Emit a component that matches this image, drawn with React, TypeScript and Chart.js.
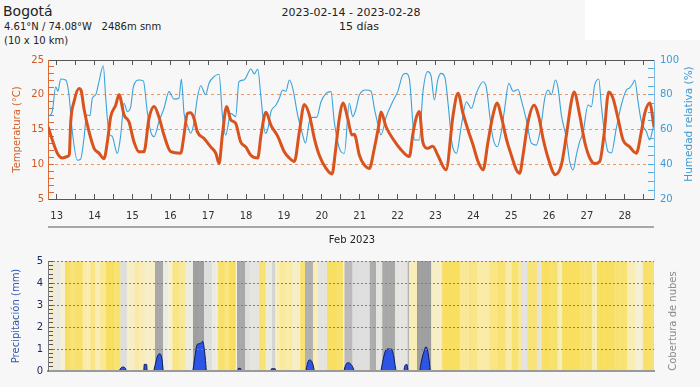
import React, { useEffect, useRef } from 'react';
import { Chart, registerables } from 'chart.js';

Chart.register(...registerables);

const FONT = 'DejaVu Sans';
const TOTAL_HOURS = 384;
const FIRST_MIDNIGHT = 5.5;

const dayLabels = ['13', '14', '15', '16', '17', '18', '19', '20', '21', '22', '23', '24', '25', '26', '27', '28'];

// [hour since chart start, °C]
const tempSeries: [number, number][] = [
  [0, 15.4], [3.8, 12.8], [5.9, 11.6], [9.1, 10.9], [12.2, 11.1], [13.5, 11.4], [14.4, 16.1], [16.5, 19.0],
  [19.6, 20.9], [21, 20.6], [22.8, 18.0], [26, 14.7], [29.2, 12.3], [32.3, 11.6], [35.5, 10.8], [37.6, 13.2],
  [39.7, 16.8], [42.9, 18.5], [45, 20.0], [48.2, 17.1], [51.3, 16.1], [54.5, 13.2], [57.7, 11.8], [60.8, 11.8],
  [64, 16.6], [67.2, 18.3], [70.3, 16.8], [73.5, 14.2], [77.8, 11.8], [84.1, 11.6], [86.2, 14.2], [88.3, 17.3],
  [90.3, 17.4], [92.5, 16.6], [94.6, 14.7], [98.9, 13.7], [103.1, 12.5], [106.3, 11.6], [108.4, 10.1], [110.5, 14.2],
  [113.2, 18.3], [115.8, 16.4], [118.9, 15.9], [122.1, 13.2], [125.3, 12.5], [128.5, 11.3], [132.9, 10.9], [135, 14.2],
  [138.1, 17.5], [141.3, 15.6], [145.6, 14.0], [149.7, 11.8], [152.9, 10.9], [156.1, 10.4], [159.3, 14.7], [162.4, 18.6],
  [165.6, 17.1], [168.8, 13.7], [171.9, 11.3], [176.2, 9.4], [180, 8.6], [182.1, 11.8], [184.6, 16.6], [187.1, 18.8],
  [189.9, 16.6], [192.6, 14.2], [194.1, 14.3], [197.3, 11.3], [200.4, 9.9], [203.6, 9.4], [206.8, 12.3], [209.6, 15.6],
  [211, 17.5], [214.2, 15.4], [218.4, 13.7], [223.7, 12.1], [229, 11.1], [231.1, 14.2], [233.2, 16.6], [235.3, 17.6],
  [237.5, 13.2], [240.6, 12.3], [243.8, 12.6], [247, 11.3], [252.2, 9.2], [256.7, 17.1], [259.8, 20.2], [263, 17.3],
  [266.2, 14.9], [269.3, 12.8], [272.5, 10.4], [275.7, 9.2], [278.8, 13.2], [282, 17.1], [284.7, 18.8], [287.3, 16.8],
  [290.4, 13.7], [293.6, 11.3], [296.8, 9.2], [298.9, 8.7], [301, 11.3], [304.2, 16.1], [308, 18.5], [311, 16.8],
  [313.7, 13.7], [316.9, 10.9], [321.5, 8.5], [325.3, 9.9], [328.5, 14.2], [331.6, 19.0], [333.3, 20.4], [336.9, 17.1],
  [340.1, 13.2], [343.3, 10.9], [346.4, 10.1], [349.6, 10.4], [352.3, 14.2], [355.3, 20.4], [358, 19.5], [361.2, 16.6],
  [364.4, 13.5], [368.6, 12.5], [372.8, 11.6], [376, 14.7], [378.1, 17.3], [381.3, 18.8], [384, 15.4],
];

// [hour since chart start, %]
const humSeries: [number, number][] = [
  [0, 67.4], [2.7, 70.3], [4.9, 84.6], [6.3, 82], [8.0, 89.1], [11.2, 88.5], [13.3, 79.9], [15.4, 58.7],
  [18.6, 42.4], [20.7, 43], [22.8, 54.9], [24.5, 68.3], [26.6, 68], [28.1, 78], [30.2, 80], [32.3, 87.5],
  [35.0, 96.7], [36.6, 78], [38.7, 57.8], [40.7, 56], [43.9, 46.3], [46.1, 56.8], [48.2, 75.1], [50.3, 70.3],
  [52.4, 73], [54.1, 84.6], [57.7, 88.5], [60.4, 88], [62.9, 70.3], [65.1, 58.7], [67.2, 55.9], [70.3, 64.5],
  [73.5, 72.2], [76.7, 81.8], [79.8, 77.5], [83.0, 78], [84.5, 89.1], [86.2, 69.3], [88.3, 62.5], [90.4, 57.8],
  [92.5, 64], [94.6, 78], [96.8, 85.2], [99.9, 80], [102.0, 86.6], [105.2, 90.4], [108.4, 91.8], [110.5, 68.3],
  [112.6, 56.8], [115.8, 69.3], [118.9, 67.4], [121.0, 87.5], [124.2, 88.5], [128.6, 94.8], [130.7, 92], [132.9, 94.8],
  [135.0, 78], [137.7, 57.8], [139.2, 60], [141.3, 70.3], [144.5, 74.1], [146.6, 78], [148.7, 82.7], [150.8, 82],
  [152.9, 88.5], [155.1, 83.7], [158.2, 68.3], [161.4, 56.8], [163.1, 52.1], [165.6, 64.5], [167.7, 67], [170.3, 67],
  [173.0, 76], [176.2, 80.8], [179.3, 81.8], [181.4, 64.5], [184.6, 49.2], [187.8, 46.3], [190.9, 75.1], [193.1, 67.4],
  [195.2, 72], [197.3, 79.9], [201.5, 82.7], [204.7, 82], [206.8, 72.2], [208.9, 63.6], [211.0, 56.8], [214.2, 67],
  [218.4, 76], [221.6, 81.8], [224.8, 91.4], [226.9, 92.3], [229.0, 89], [231.1, 64.5], [232.1, 54], [235.3, 54],
  [237.5, 80.8], [240.6, 93.3], [242.7, 91], [244.8, 77], [247.0, 88.5], [249.0, 92.3], [251.5, 90], [253.5, 75],
  [256.0, 52], [258.8, 46.3], [262.0, 62.6], [265.1, 76], [268.3, 72.2], [271.4, 80.8], [275.7, 87.5], [277.8, 84],
  [280.0, 67.4], [282.0, 54.9], [284.7, 50.1], [287.3, 59], [289.4, 72.2], [292.0, 86.6], [294.7, 82], [297.9, 83],
  [299.9, 77], [303.1, 65.5], [306.3, 52.1], [309.4, 51], [312.6, 63.6], [314.8, 78], [316.9, 82.7], [319.0, 80],
  [321.5, 88.5], [323.2, 84], [325.3, 68.3], [328.5, 54.9], [330.6, 41.5], [332.7, 36.7], [334.8, 45.3], [336.9, 53],
  [339.0, 58], [342.2, 74.1], [344.3, 73], [346.4, 85.6], [349.0, 89.1], [350.6, 74.1], [352.8, 56.8], [354.9, 47.2],
  [357.0, 46.5], [360.1, 60.7], [363.3, 74.1], [366.5, 82.7], [368.6, 84], [370.7, 86.6], [371.8, 88.5], [373.9, 76],
  [376.0, 64.5], [379.2, 58.7], [381.3, 54], [383.4, 60.7], [384, 62],
];

// [hour, mm]; null separates showers
const precipSeries: [number, number | null][] = [
  [45.2, 0], [45.8, 0.1], [47.5, 0.18], [49.2, 0.1], [49.6, 0], [50, null],
  [60.7, 0], [61, 0.3], [62.5, 0.3], [62.8, 0], [63, null],
  [67, 0], [68, 0.3], [69.5, 0.7], [71, 0.78], [72.3, 0.5], [73, 0], [74, null],
  [91.8, 0], [92.8, 0.5], [94.5, 1.2], [96.5, 1.25], [98, 1.35], [99.2, 0.9], [100, 0.3], [100.3, 0], [101, null],
  [120.3, 0], [120.6, 0.12], [122, 0.12], [122.3, 0], [123, null],
  [141.2, 0], [141.6, 0.1], [144, 0.1], [144.4, 0], [145, null],
  [163.4, 0], [164.3, 0.3], [165.5, 0.5], [167, 0.45], [168.5, 0.1], [168.7, 0], [169, null],
  [187.5, 0], [188.5, 0.25], [190, 0.38], [192, 0.3], [193.6, 0.1], [194, 0], [195, null],
  [211, 0], [212, 0.4], [213.5, 0.85], [215, 1.0], [217.5, 1.0], [219, 0.7], [220.3, 0.1], [220.6, 0], [221, null],
  [225.5, 0], [226.2, 0.25], [227.5, 0.3], [228.1, 0], [229, null],
  [235.6, 0], [236.5, 0.4], [238.3, 0.9], [239.5, 1.1], [240.8, 0.85], [241.8, 0.3], [242.2, 0],
];

// [start hour, cloud cover %]
const cloudSeries: [number, number][] = [
  [0, 45], [2, 30], [4, 50], [8, 40], [11, 5], [14, 12], [17, 8], [22, 25], [25, 30], [27, 15], [30, 30], [33, 20], [37, 5], [42, 10],
  [46, 60], [50, 35], [55, 25], [58, 30], [61, 35], [68, 90], [73, 50], [76, 40], [79, 15], [83, 20], [87, 50], [92, 95],
  [99, 60], [104, 50], [108, 8], [112, 15], [115, 5], [119, 45], [120, 90], [125, 60], [128, 55], [134, 10],
  [138, 50], [142, 65], [144, 30], [147, 22], [150, 25], [155, 35], [160, 10], [163, 85], [168, 30], [171, 55], [177, 5],
  [182, 8], [187, 40], [188, 80], [193, 60], [204, 88], [208, 55], [212, 90], [220, 55], [228, 85], [229, 30],
  [234, 95], [243, 35], [250, 5], [261, 20], [267, 15], [272, 25], [276, 25], [280, 15], [285, 10], [290, 25], [294, 10],
  [298, 20], [300, 55], [304, 12], [310, 55], [313, 5], [318, 8], [323, 30], [326, 5], [337, 10], [345, 30],
  [348, 5], [359, 10], [367, 30], [372, 40], [377, 8],
];

const tickHours = Array.from({ length: 32 }, (_, k) => FIRST_MIDNIGHT + 12 * k);

function mix(a: number[], b: number[], t: number) {
  return a.map((v, i) => Math.round(v + (b[i] - v) * t));
}
function cloudColor(c: number) {
  const stops: [number, number[]][] = [
    [0, [248, 220, 78]], [25, [249, 235, 168]], [45, [243, 241, 228]], [60, [222, 222, 222]], [100, [150, 150, 150]],
  ];
  for (let i = 1; i < stops.length; i++) {
    if (c <= stops[i][0]) {
      const t = (c - stops[i - 1][0]) / (stops[i][0] - stops[i - 1][0]);
      const m = mix(stops[i - 1][1], stops[i][1], t);
      return `rgb(${m[0]},${m[1]},${m[2]})`;
    }
  }
  return 'rgb(150,150,150)';
}

const small = { family: FONT, size: 10 };

export default function App() {
  const topRef = useRef<HTMLCanvasElement>(null);
  const botRef = useRef<HTMLCanvasElement>(null);

  useEffect(() => {
    const xTicks = (s: any) => { s.ticks = tickHours.map((v) => ({ value: v })); };
    const top = new Chart(topRef.current!, {
      type: 'line',
      data: {
        datasets: [
          {
            label: 'Temperatura', data: tempSeries.map(([x, y]) => ({ x, y })), yAxisID: 'y',
            borderColor: '#d9531e', borderWidth: 3, pointRadius: 0, cubicInterpolationMode: 'monotone', order: 0,
          },
          {
            label: 'Humedad', data: humSeries.map(([x, y]) => ({ x, y })), yAxisID: 'yH',
            borderColor: '#3aa2da', borderWidth: 1.1, pointRadius: 0, cubicInterpolationMode: 'monotone', order: 1,
          },
        ],
      },
      options: {
        animation: false, responsive: false, devicePixelRatio: 1, events: [],
        layout: { padding: { top: 60, left: 0, right: 0, bottom: 0 } },
        plugins: { legend: { display: false }, tooltip: { enabled: false } },
        scales: {
          x: {
            type: 'linear', position: 'bottom', min: 0, max: TOTAL_HOURS,
            afterBuildTicks: xTicks, afterFit: (s: any) => { s.height = 33; },
            ticks: {
              autoSkip: false, maxRotation: 0, padding: 16, color: '#333', font: small,
              callback: (_v: any, i: number) => (i % 2 === 0 ? dayLabels[i / 2] : ''),
            },
            grid: { drawOnChartArea: false, tickLength: -5, tickColor: '#555' },
            border: { color: '#555', width: 1 },
          },
          xTop: {
            type: 'linear', position: 'top', min: 0, max: TOTAL_HOURS,
            afterBuildTicks: xTicks, afterFit: (s: any) => { s.height = 0; },
            ticks: { display: false },
            grid: { drawOnChartArea: false, tickLength: -5, tickColor: '#555' },
            border: { color: '#555', width: 1 },
          },
          y: {
            position: 'left', min: 5, max: 25,
            afterBuildTicks: (s: any) => { s.ticks = Array.from({ length: 21 }, (_, i) => ({ value: 5 + i })); },
            afterFit: (s: any) => { s.width = 48; },
            ticks: {
              autoSkip: false, padding: 10, color: '#cf5a22', font: small,
              callback: (v: any) => (v % 5 === 0 ? String(v) : ''),
            },
            grid: {
              color: (ctx: any) => (ctx.tick && [10, 15, 20].includes(ctx.tick.value) ? '#e69a6e' : 'rgba(0,0,0,0)'),
              tickLength: -6, tickColor: '#dc6a34',
            },
            border: { color: '#dc6a34', dash: [3, 3] },
            title: { display: true, text: 'Temperatura (°C)', color: '#d55e26', font: small, padding: { top: 11, bottom: 0 } },
          },
          yH: {
            position: 'right', min: 20, max: 100,
            afterBuildTicks: (s: any) => { s.ticks = Array.from({ length: 17 }, (_, i) => ({ value: 20 + 5 * i })); },
            afterFit: (s: any) => { s.width = 46; },
            ticks: {
              autoSkip: false, padding: 12, color: '#3d9ad4', font: small,
              callback: (v: any) => (v % 20 === 0 ? String(v) : ''),
            },
            grid: { drawOnChartArea: false, tickLength: -6, tickColor: '#5aaede' },
            border: { color: '#7dbde6' },
          },
        },
      },
    } as any);

    const hourly = Array.from({ length: TOTAL_HOURS }, (_, h) => h);
    const coverAt = (h: number) => {
      let c = cloudSeries[0][1];
      for (const [s, v] of cloudSeries) if (s <= h) c = v;
      return c;
    };
    const bot = new Chart(botRef.current!, {
      type: 'bar',
      data: {
        datasets: [
          {
            type: 'line', label: 'Precipitación', data: precipSeries.map(([x, y]) => ({ x, y })), yAxisID: 'y',
            fill: 'origin', borderColor: '#0b1a52', borderWidth: 1, backgroundColor: '#2c55e6',
            pointRadius: 0, spanGaps: false, cubicInterpolationMode: 'monotone', order: 0,
          },
          {
            type: 'bar', label: 'Cobertura de nubes', data: hourly.map((h) => ({ x: h + 0.5, y: 1 })), yAxisID: 'yC',
            backgroundColor: hourly.map((h) => cloudColor(coverAt(h))),
            borderColor: hourly.map((h) => cloudColor(coverAt(h))), borderWidth: 0.4,
            barPercentage: 1, categoryPercentage: 1, order: 1,
          },
        ],
      },
      options: {
        animation: false, responsive: false, devicePixelRatio: 1, events: [],
        layout: { padding: { top: 16, left: 0, right: 0, bottom: 0 } },
        plugins: { legend: { display: false }, tooltip: { enabled: false } },
        scales: {
          x: {
            type: 'linear', position: 'bottom', min: 0, max: TOTAL_HOURS, offset: false,
            afterFit: (s: any) => { s.height = 9; },
            ticks: { display: false }, grid: { display: false },
            border: { color: '#9a9a9a', width: 2, z: 2 },
          },
          y: {
            position: 'left', min: 0, max: 5,
            afterBuildTicks: (s: any) => { s.ticks = Array.from({ length: 26 }, (_, i) => ({ value: i / 5 })); },
            afterFit: (s: any) => { s.width = 48; },
            ticks: {
              autoSkip: false, padding: 10, color: '#1d2b66', font: small,
              callback: (_v: any, i: number) => (i % 5 === 0 ? String(i / 5) : ''),
            },
            grid: {
              color: (ctx: any) => (ctx.index % 5 === 0 && ctx.index > 0 ? '#808080' : 'rgba(0,0,0,0)'),
              tickLength: -5, tickColor: '#555', z: 1,
            },
            border: { color: '#777', dash: [2, 2], z: 2 },
            title: { display: true, text: 'Precipitación (mm)', color: '#3157b4', font: small, padding: { top: 10, bottom: 0 } },
          },
          yC: {
            position: 'right', min: 0, max: 1,
            afterFit: (s: any) => { s.width = 46; },
            ticks: { display: false }, grid: { display: false }, border: { display: false },
          },
        },
      },
    } as any);

    return () => { top.destroy(); bot.destroy(); };
  }, []);

  const abs = (extra: React.CSSProperties): React.CSSProperties => ({ position: 'absolute', whiteSpace: 'pre', ...extra });
  const rotated = (text: string, cx: number, cy: number, color: string, size: number) => (
    <div style={abs({ left: cx, top: cy, transform: 'translate(-50%,-50%) rotate(-90deg)', color, fontSize: size, lineHeight: 1 })}>{text}</div>
  );

  return (
    <div style={{ position: 'fixed', left: 0, top: 0, width: 700, height: 387, background: '#f7f7f7', fontFamily: FONT, overflow: 'hidden' }}>
      <div style={abs({ left: 585, top: 0, width: 115, height: 40, background: '#ffffff' })} />
      <div style={abs({ left: 3, top: 3, fontSize: 14, color: '#222' })}>Bogotá</div>
      <div style={abs({ left: 4, top: 21, fontSize: 10, color: '#222' })}>4.61°N / 74.08°W   2486m snm</div>
      <div style={abs({ left: 4, top: 35, fontSize: 10, color: '#222' })}>(10 x 10 km)</div>
      <div style={abs({ left: 351, top: 6, fontSize: 11, color: '#222', transform: 'translateX(-50%)' })}>2023-02-14 - 2023-02-28</div>
      <div style={abs({ left: 359, top: 20, fontSize: 11, color: '#222', transform: 'translateX(-50%)' })}>15 días</div>
      <canvas ref={topRef} width={700} height={232} style={{ position: 'absolute', left: 0, top: 0 }} />
      <div style={abs({ left: 48, top: 226, width: 606, height: 2, background: '#a8a8a8' })} />
      <div style={abs({ left: 352, top: 234, fontSize: 10, color: '#222', transform: 'translateX(-50%)' })}>Feb 2023</div>
      <canvas ref={botRef} width={700} height={142} style={{ position: 'absolute', left: 0, top: 245 }} />
      {rotated('Humedad relativa (%)', 688, 124, '#3d9ad4', 10.5)}
      {rotated('Cobertura de nubes', 673, 321, '#8a8a8a', 10)}
    </div>
  );
}
